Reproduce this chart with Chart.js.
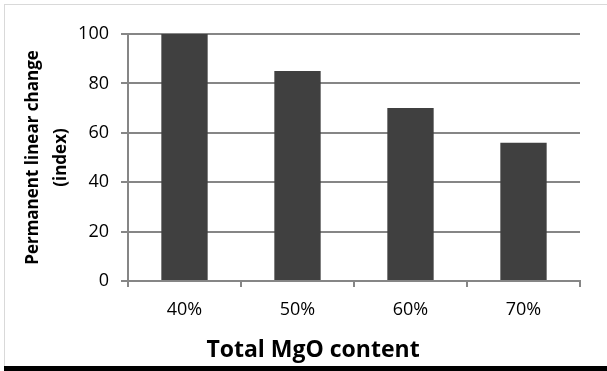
<!DOCTYPE html>
<html>
<head>
<meta charset="utf-8">
<script src="https://cdn.jsdelivr.net/npm/chart.js@4/dist/chart.umd.min.js"></script>
<style>
    html, body { margin: 0; padding: 0; background: #fff; }
    canvas { display: block; }
</style>
</head>
<body>
<canvas id="chart-mgo" width="607" height="371"></canvas>
<script>
// datos
const categorias = ['40%', '50%', '60%', '70%'];
const valores = [100, 85, 70, 56];
const ticksY = [0, 20, 40, 60, 80, 100];
const tituloX = 'Total MgO content';
const tituloY = ['Permanent linear change', '(index)'];

const FUENTE = '"Open Sans", "DejaVu Sans", sans-serif';
const GRIS = '#868686';

// marco gris, linea negra inferior y titulo del eje X
const marco = {
    id: 'marco',
    beforeDraw(chart) {
        const ctx = chart.ctx;
        ctx.save();
        ctx.fillStyle = '#fff';
        ctx.fillRect(0, 0, chart.width, chart.height);
        ctx.strokeStyle = '#d9d9d9';
        ctx.lineWidth = 1;
        ctx.strokeRect(4.5, 4.5, chart.width - 4, 362);
        ctx.fillStyle = '#000';
        ctx.fillRect(4, 366, chart.width - 4, 5);
        ctx.restore();
    },
    afterDraw(chart) {
        const ctx = chart.ctx;
        ctx.save();
        ctx.font = 'bold 23px ' + FUENTE;
        ctx.fillStyle = '#000';
        ctx.textAlign = 'center';
        ctx.textBaseline = 'alphabetic';
        ctx.fillText(tituloX, 313, 357);
        ctx.restore();
    }
};

new Chart(document.getElementById('chart-mgo'), {
    type: 'bar',
    data: {
        labels: categorias,
        datasets: [{
            data: valores,
            backgroundColor: '#404040',
            borderWidth: 0,
            barPercentage: 0.41,
            categoryPercentage: 1
        }]
    },
    options: {
        responsive: false,
        animation: false,
        devicePixelRatio: 1,
        layout: { padding: { top: 34, right: 27, bottom: 0, left: 0 } },
        plugins: {
            legend: { display: false },
            tooltip: { enabled: false }
        },
        scales: {
            x: {
                offset: true,
                grid: { offset: true, drawOnChartArea: false, drawTicks: true, tickLength: 6, color: GRIS, lineWidth: 2 },
                border: { display: true, color: GRIS, width: 2 },
                ticks: { color: '#000', font: { family: FUENTE, size: 18 }, padding: 12, maxRotation: 0 },
                afterFit: s => { s.height = 90; }
            },
            y: {
                min: ticksY[0],
                max: ticksY[ticksY.length - 1],
                afterBuildTicks: s => { s.ticks = ticksY.map(v => ({ value: v })); },
                grid: { color: GRIS, lineWidth: 2, tickLength: 7, drawTicks: true },
                border: { display: true, color: GRIS, width: 2 },
                ticks: { color: '#000', font: { family: FUENTE, size: 18 }, padding: 12 },
                title: {
                    display: true,
                    text: tituloY,
                    color: '#000',
                    font: { family: FUENTE, size: 17, weight: 'bold', lineHeight: 1.6 },
                    padding: { top: 20, bottom: 0 }
                },
                afterFit: s => { s.width = 128; }
            }
        }
    },
    plugins: [marco]
});
</script>
</body>
</html>
